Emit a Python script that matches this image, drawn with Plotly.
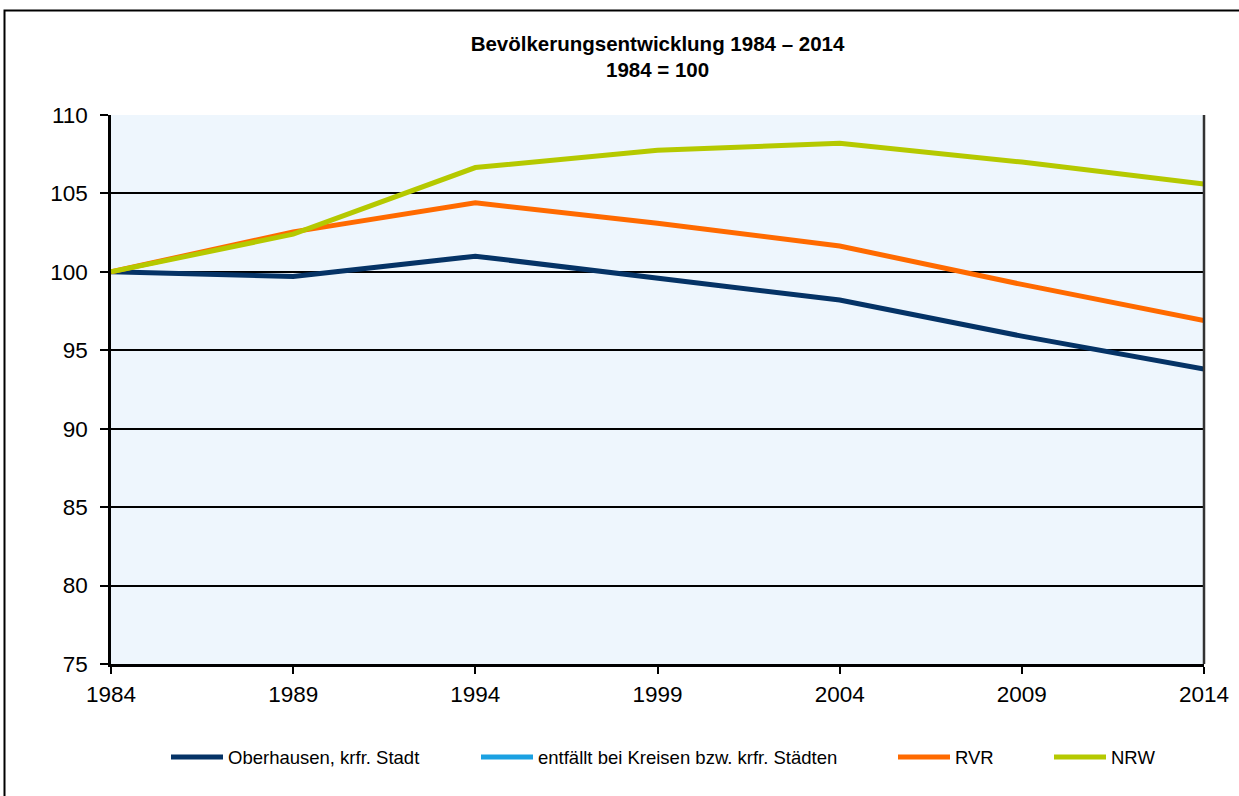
import plotly.graph_objects as go

years = [1984, 1989, 1994, 1999, 2004, 2009, 2014]
oberhausen = [100.0, 99.7, 101.0, 99.6, 98.2, 95.9, 93.8]
kreise = []  # entfällt
rvr = [100.0, 102.55, 104.4, 103.1, 101.65, 99.2, 96.9]
nrw = [100.0, 102.4, 106.65, 107.75, 108.2, 107.0, 105.6]

names = ["Oberhausen, krfr. Stadt", "entfällt bei Kreisen bzw. krfr. Städten", "RVR", "NRW"]
colors = ["#053366", "#1BA1E2", "#FF6A00", "#B5C900"]
series = [oberhausen, kreise, rvr, nrw]
legend_ids = ["legend", "legend2", "legend3", "legend4"]
legend_x_px = [166, 476, 893, 1049]   # left edge of each legend entry

FONT = "Liberation Sans, Arial, sans-serif"
W, H = 1239, 796

fig = go.Figure()
for name, col, vals, lid in zip(names, colors, series, legend_ids):
    fig.add_trace(go.Scatter(
        x=years[:len(vals)] if vals else [None], y=vals if vals else [None],
        mode="lines", name=name, legend=lid,
        line=dict(color=col, width=5),
    ))

legend_common = dict(
    orientation="h", xref="container", yref="container",
    y=1 - 757.5 / H, yanchor="middle", xanchor="left",
    font=dict(size=18.5, family=FONT, color="black"),
    bgcolor="rgba(0,0,0,0)", itemwidth=52, borderwidth=0,
)
legends = {}
for lid, px in zip(legend_ids, legend_x_px):
    legends[lid] = dict(legend_common, x=px / W)

fig.update_layout(
    width=W, height=H,
    margin=dict(l=111, r=35, t=115, b=132, autoexpand=False),
    paper_bgcolor="white",
    plot_bgcolor="#EEF6FD",
    font=dict(family=FONT, color="black"),
    title=dict(
        text="<b>Bevölkerungsentwicklung 1984 – 2014</b>",
        x=0.5, xanchor="center", xref="paper",
        yref="container", y=1 - 44 / H, yanchor="middle",
        font=dict(size=20.5, family=FONT, color="black"),
    ),
    showlegend=True,
    **legends,
)
fig.add_annotation(
    text="<b>1984 = 100</b>", xref="paper", yref="paper",
    x=0.5, xanchor="center", y=(664 - 69) / 549, yanchor="middle",
    showarrow=False, font=dict(size=20.5, family=FONT, color="black"),
)

fig.update_xaxes(
    range=[1984, 2014], tickvals=years, ticktext=[str(y) for y in years],
    showgrid=False, zeroline=False,
    showline=True, linecolor="black", linewidth=2.5,
    ticks="outside", ticklen=7, tickwidth=2, tickcolor="black",
    tickfont=dict(size=22.5, family=FONT, color="black"),
    ticklabelstandoff=1,
)
fig.update_yaxes(
    range=[75, 110], dtick=5, tick0=75,
    showgrid=True, gridcolor="black", gridwidth=2,
    zeroline=False,
    showline=True, linecolor="black", linewidth=2.5,
    ticks="outside", ticklen=8, tickwidth=2, tickcolor="black",
    tickfont=dict(size=22.5, family=FONT, color="black"),
    ticklabelstandoff=8,
)

# right border of the plot area
fig.add_shape(type="line", xref="paper", yref="paper", x0=1, x1=1, y0=0, y1=1,
              line=dict(color="#333333", width=2.5))
# outer chart frame
fig.add_shape(type="rect", xref="paper", yref="paper",
              x0=(4.5 - 111) / 1093, x1=(1260 - 111) / 1093,
              y0=(664 - 820) / 549, y1=(664 - 10.5) / 549,
              line=dict(color="black", width=2), layer="below")

fig.write_html(
    "out.html",
    config={"displayModeBar": False},
    post_script="document.body.style.margin='0';document.body.style.padding='0';",
)
